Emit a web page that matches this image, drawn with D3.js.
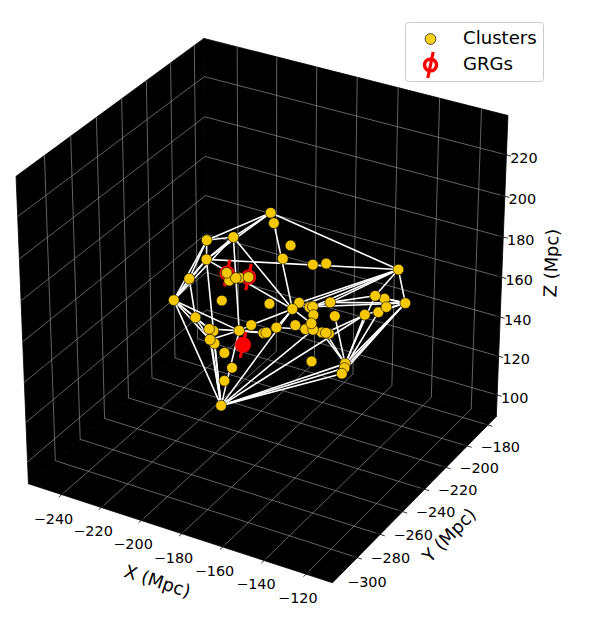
<!DOCTYPE html>
<html><head><meta charset="utf-8">
<script src="https://cdn.jsdelivr.net/npm/d3@7/dist/d3.min.js"></script>
<style>html,body{margin:0;padding:0;background:#fff}svg{display:block}text{font-family:"DejaVu Sans",sans-serif;fill:#000}</style>
</head><body><svg id="c" width="597" height="618"></svg>
<script>
// --- data -------------------------------------------------------------
const xLimits=[-257,-107.5], yLimits=[-301.2,-151.8], zLimits=[88.8,238.8];
const xTicks=[-240,-220,-200,-180,-160,-140,-120];
const yGridTicks=[-280,-260,-240,-220,-200,-180,-160];
const yLabelTicks=[-300,-280,-260,-240,-220,-200,-180];
const zTicks=[100,120,140,160,180,200,220];
const clusterX=[-190.0,-179.0,-219.7,-201.2,-199.7,-189.3,-213.0,-216.4,-197.6,-216.4,-198.0,-190.9,-206.9,-195.9,-203.4,-191.3,-196.4,-163.2,-168.9,-172.5,-144.9,-130.7,-142.6,-146.9,-129.2,-131.6,-144.4,-150.1,-163.6,-178.4,-156.0,-165.6,-154.9,-177.4,-173.2,-146.4,-153.5,-166.7,-163.9,-148.5,-167.4,-154.6,-146.2,-138.4,-180.3,-185.2,-191.4,-198.5,-190.0,-196.8,-170.2,-179.8,-167.1,-200.9,-187.7,-189.1,-187.7];
const clusterY=[-209.1,-225.5,-212.8,-221.5,-246.3,-199.8,-238.6,-245.9,-259.2,-206.0,-196.2,-244.5,-215.5,-228.6,-212.8,-225.7,-180.5,-237.3,-209.7,-191.4,-176.9,-197.1,-202.2,-185.4,-217.2,-219.8,-207.9,-228.1,-199.4,-204.6,-232.6,-218.3,-234.0,-209.6,-208.2,-251.0,-236.7,-205.3,-204.0,-234.6,-212.9,-206.1,-222.1,-238.7,-252.4,-234.0,-258.4,-243.1,-260.2,-245.2,-247.1,-232.9,-244.0,-230.1,-246.0,-250.0,-255.3];
const clusterZ=[196.5,202.3,176.6,187.5,189.1,169.7,172.1,164.2,167.9,144.0,142.8,184.2,161.5,172.4,162.5,172.7,164.9,171.0,177.3,167.9,165.6,163.1,165.8,154.7,171.7,169.8,158.8,173.4,148.2,153.2,171.8,161.6,168.8,144.8,143.3,175.9,163.4,142.1,141.6,162.3,131.2,130.4,139.1,147.4,163.1,155.0,163.7,152.8,159.8,148.2,162.4,152.0,164.2,134.4,139.2,134.4,125.2];
const grgX=[-190.7,-191.3,-186.1], grgY=[-244.5,-225.7,-239.4], grgZ=[184.1,172.7,147.7];
// hull edges as 1-based cluster numbers
const hullFrom=[8,8,8,8,8,8,8,8,8,7,7,7,5,3,3,4,5,5,5,5,5,1,2,1,4,4,9,9,57,57,57,57,57,57,57,57,57,57,57,45,45,45,45,45,53,18,18,18,18,30,21,21,21,21,21,21,22,22,22,22,22,22,22,22,22,27,26,23,28,23,29,40,38,40,37];
const hullTo=[7,3,5,4,9,47,49,57,45,3,5,9,3,4,1,1,1,4,21,18,48,21,18,2,45,18,49,47,47,48,49,50,45,18,37,44,43,42,27,47,49,46,52,51,37,46,53,30,36,33,18,30,28,31,23,22,28,31,23,24,26,27,42,43,44,44,43,42,31,28,42,42,42,27,40];
const legendLabels=["Clusters","GRGs"];
const axisNames=["X (Mpc)","Y (Mpc)","Z (Mpc)"];

// --- projection: elev 30, azim -60, camera distance 10 --------------------
const sx=d3.scaleLinear().domain([-1,1]).range([266-351,266+351]);
const sy=d3.scaleLinear().domain([-1,1]).range([301.3+351,301.3-351]);
const ux=d3.scaleLinear().domain(xLimits).range([-.5,.5]);
const uy=d3.scaleLinear().domain(yLimits).range([-.5,.5]);
const uz=d3.scaleLinear().domain(zLimits).range([-.5,.5]);
const e=30*Math.PI/180,az=-60*Math.PI/180,dist=10;
const n=[Math.cos(e)*Math.cos(az),Math.cos(e)*Math.sin(az),Math.sin(e)];
const u=[-Math.sin(az),Math.cos(az),0];
const v=[-Math.sin(e)*Math.cos(az),-Math.sin(e)*Math.sin(az),Math.cos(e)];
const dot=(a,b)=>a[0]*b[0]+a[1]*b[1]+a[2]*b[2];
function P(x,y,z){const q=[ux(x),uy(y),uz(z)],w=dot(q,n),f=dist/(dist-w);
  return {x:sx(dot(q,u)*f),y:sy(dot(q,v)*f),w};}
const [x0,x1]=xLimits,[y0,y1]=yLimits,[z0,z1]=zLimits;

const svg=d3.select("#c");
const pts=a=>a.map(p=>{const s=P(...p);return s.x+","+s.y}).join(" ");
// panes
const panes=[[[x0,y0,z0],[x0,y1,z0],[x0,y1,z1],[x0,y0,z1]],
             [[x0,y1,z0],[x1,y1,z0],[x1,y1,z1],[x0,y1,z1]],
             [[x0,y0,z0],[x1,y0,z0],[x1,y1,z0],[x0,y1,z0]]];
svg.append("g").selectAll("polygon").data(panes).join("polygon")
  .attr("points",pts).attr("fill","#000").attr("stroke","#000").attr("stroke-width",.8);
// grid
const gridLines=[];
xTicks.forEach(t=>gridLines.push([[t,y0,z0],[t,y1,z0]],[[t,y1,z0],[t,y1,z1]]));
yGridTicks.forEach(t=>gridLines.push([[x1,t,z0],[x0,t,z0]],[[x0,t,z0],[x0,t,z1]]));
zTicks.forEach(t=>gridLines.push([[x1,y1,t],[x0,y1,t]],[[x0,y1,t],[x0,y0,t]]));
function seg(sel,data,col,w){sel.selectAll("line").data(data).join("line")
  .attr("x1",d=>P(...d[0]).x).attr("y1",d=>P(...d[0]).y)
  .attr("x2",d=>P(...d[1]).x).attr("y2",d=>P(...d[1]).y)
  .attr("stroke",col).attr("stroke-width",w);}
seg(svg.append("g"),gridLines,"#8c8c8c",.7);
// ticks
const tickOut=2.2;
const tickLines=[];
xTicks.forEach(t=>tickLines.push([[t,y0+tickOut,z0],[t,y0-tickOut,z0]]));
yGridTicks.forEach(t=>tickLines.push([[x1-tickOut,t,z0],[x1+tickOut,t,z0]]));
zTicks.forEach(t=>tickLines.push([[x1-tickOut,y1,t],[x1+tickOut,y1,t]]));
seg(svg.append("g"),tickLines,"#000",.8);
// tick labels
const fmt=t=>(t<0?"\u2212":"")+Math.abs(t);
function labels(ticks,pos,dx,dy){svg.append("g").selectAll("text").data(ticks).join("text")
  .attr("x",d=>pos(d).x+dx).attr("y",d=>pos(d).y+dy)
  .attr("text-anchor","middle").attr("dominant-baseline","central")
  .attr("font-size",14.4).text(fmt);}
labels(xTicks,t=>P(t,y0,z0),-8.2,24);
labels(yLabelTicks,t=>P(x1,t,z0),33,0.7);
labels(zTicks,t=>P(x1,y1,t),17.5,2.7);
// axis titles
[[157.5,581,18.2],[449,535,-45.5],[551,263,-88]].forEach((a,i)=>{
  svg.append("text").attr("transform",`translate(${a[0]},${a[1]}) rotate(${a[2]})`)
   .attr("text-anchor","middle").attr("dominant-baseline","central")
   .attr("font-size",17.9).text(axisNames[i]);});
// hull edges
const clusters=clusterX.map((x,i)=>[x,clusterY[i],clusterZ[i]]);
const edges=hullFrom.map((f,i)=>[clusters[f-1],clusters[hullTo[i]-1]]);
seg(svg.append("g"),edges,"#fff",1.6);
// GRG phi markers: a slanted stem through a thick ring
function phi(parent,px,py,filled){
  const g=parent.append("g").attr("transform",`translate(${px},${py})`);
  g.append("line").attr("x1",2.7).attr("y1",-13).attr("x2",-2.7).attr("y2",13)
    .attr("stroke","#f00").attr("stroke-width",3.2);
  g.append("ellipse").attr("rx",filled?8:6).attr("ry",filled?8:5.9)
    .attr("fill",filled?"#f00":"none").attr("stroke","#f00").attr("stroke-width",filled?0:3.4);
}
const grgs=grgX.map((x,i)=>P(x,grgY[i],grgZ[i]));
const grgG=svg.append("g");
grgs.forEach((d,i)=>phi(grgG,d.x,d.y,i===2));
// clusters
const order=clusters.map(c=>P(...c)).map((p,i)=>({...p,i})).sort((a,b)=>a.w-b.w||a.i-b.i);
svg.append("g").selectAll("circle").data(order).join("circle")
  .attr("cx",d=>d.x).attr("cy",d=>d.y).attr("r",5.4)
  .attr("fill","#f5c800").attr("stroke","#000").attr("stroke-width",.6);
// legend
const lg=svg.append("g");
lg.append("rect").attr("x",405.5).attr("y",22.5).attr("width",138).attr("height",59).attr("rx",3)
  .attr("fill","#fff").attr("stroke","#ccc").attr("stroke-width",1);
lg.append("circle").attr("cx",430.5).attr("cy",39).attr("r",5.4).attr("fill","#ffd21a").attr("stroke","#222").attr("stroke-width",.8);
phi(lg,430.5,65,false);
legendLabels.forEach((t,i)=>lg.append("text").attr("x",463).attr("y",37.5+i*26).attr("dominant-baseline","central").attr("font-size",18.1).text(t));
</script></body></html>
